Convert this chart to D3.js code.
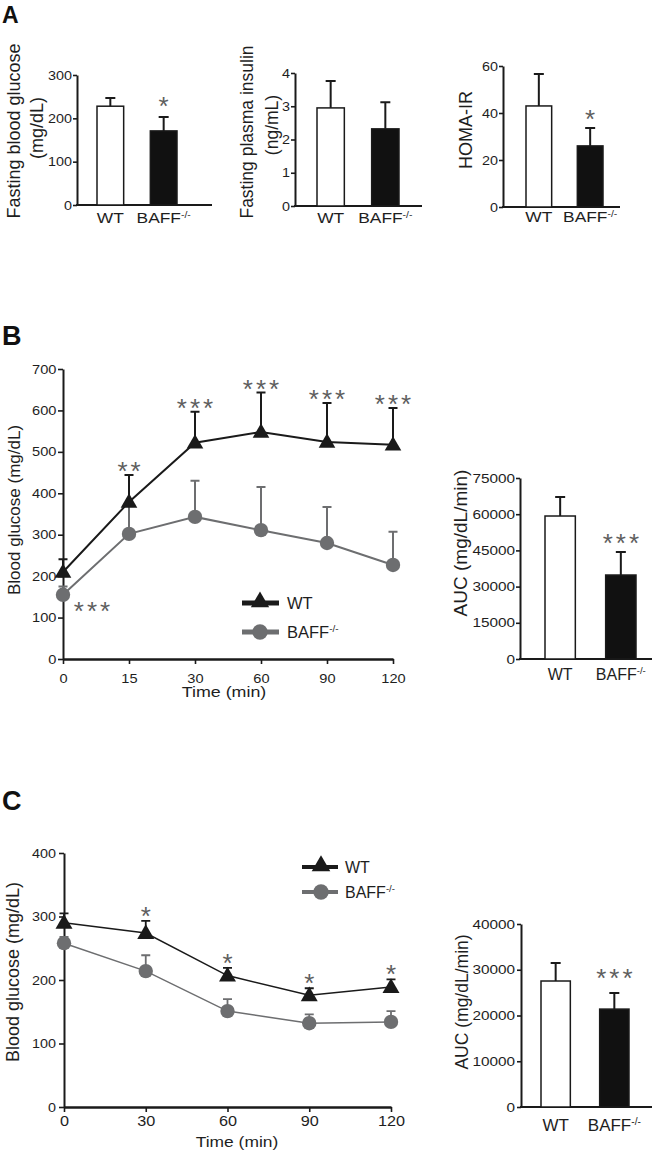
<!DOCTYPE html>
<html><head><meta charset="utf-8">
<script src="https://cdn.jsdelivr.net/npm/d3@7"></script>
<style>
body{margin:0;background:#fff}
svg{display:block}
text{font-family:"Liberation Sans",Arial,Helvetica,sans-serif}
</style>
</head><body><script>
// ---------------- DATA ----------------
const groups = ["WT", "BAFF-/-"];
const fastingGlucose = [228, 171];
const fastingGlucoseErr = [19, 32];
const fastingGlucoseStars = ["", "*"];
const fastingGlucoseTicks = [0, 100, 200, 300];
const fastingInsulin = [2.95, 2.32];
const fastingInsulinErr = [0.81, 0.80];
const fastingInsulinStars = ["", ""];
const fastingInsulinTicks = [0, 1, 2, 3, 4];
const homaIR = [43.0, 26.0];
const homaIRErr = [13.6, 7.6];
const homaIRStars = ["", "*"];
const homaIRTicks = [0, 20, 40, 60];

const gttTimes = [0, 15, 30, 60, 90, 120];
const gttWT = [210, 379, 522, 548, 524, 517];
const gttWTErr = [31, 65, 75, 95, 94, 89];
const gttBAFF = [155, 302, 343, 311, 280, 227];
const gttBAFFErr = [20, 70, 87, 104, 87, 80];
const gttStarsWT = ["", "**", "***", "***", "***", "***"];
const gttStarsBAFF = ["***", "", "", "", "", ""];
const gttYTicks = [0, 100, 200, 300, 400, 500, 600, 700];
const gttAUC = [59250, 34800];
const gttAUCErr = [7850, 9500];
const gttAUCStars = ["", "***"];
const gttAUCTicks = [0, 15000, 30000, 45000, 60000, 75000];

const ittTimes = [0, 30, 60, 90, 120];
const ittWT = [290, 274, 207, 176, 189];
const ittWTErr = [15, 19, 12, 11, 12];
const ittBAFF = [258, 214, 151, 132, 134];
const ittBAFFErr = [10, 25, 19, 14, 17];
const ittStarsWT = ["", "*", "*", "*", "*"];
const ittStarsBAFF = ["", "", "", "", ""];
const ittYTicks = [0, 100, 200, 300, 400];
const ittAUC = [27540, 21400];
const ittAUCErr = [3960, 3500];
const ittAUCStars = ["", "***"];
const ittAUCTicks = [0, 10000, 20000, 30000, 40000];

// ---------------- STYLE ----------------
const INK = "#1a1a1a", TXT = "#1e1e1e", GREY = "#6d6e70", STAR = "#5e5e5e";

const svg = d3.select("body").append("svg").attr("width", 654).attr("height", 1150);

function addLabel(t, s, size) {
  if (s.endsWith("-/-")) {
    t.append("tspan").text(s.slice(0, -3));
    t.append("tspan").attr("font-size", size * 0.6).attr("dy", -size * 0.36).text("-/-");
  } else t.text(s);
}
function txt(parent, x, y, s, o = {}) {
  const size = o.size || 14, sx = o.sx || 1;
  let tr = `translate(${x},${y})`;
  if (o.rotate) tr += ` rotate(${o.rotate})`;
  if (sx !== 1) tr += ` scale(${sx},1)`;
  const t = parent.append("text").attr("transform", tr)
    .attr("text-anchor", o.anchor || "start")
    .attr("font-size", size)
    .attr("font-weight", o.weight || "normal")
    .attr("fill", o.fill || TXT);
  if (o.ls) t.attr("letter-spacing", o.ls);
  addLabel(t, s, size);
  return t;
}
function stars(parent, cx, cy, s, fs) {
  if (!s) return;
  const ls = 3;
  txt(parent, cx + ls / 2, cy + 0.58 * fs, s, {size: fs, anchor: "middle", fill: STAR, ls});
}
function styleAxis(sel, fs, sx, domW = 2) {
  sel.attr("font-family", null).attr("font-size", null);
  sel.select(".domain").attr("stroke", INK).attr("stroke-width", domW);
  sel.selectAll(".tick line").attr("stroke", INK).attr("stroke-width", 1.6);
  sel.selectAll(".tick text").attr("font-size", fs).attr("fill", TXT).each(function () {
    const t = d3.select(this);
    const x = +t.attr("x") || 0, y = +t.attr("y") || 0;
    t.attr("x", 0).attr("y", 0).attr("transform", `translate(${x},${y}) scale(${sx},1)`);
  });
}

// ---------------- BAR CHART ----------------
function barChart(o) {
  const g = svg.append("g");
  const y = d3.scaleLinear().domain([0, o.yMax]).range([o.yBase, o.yTop]);
  const x = d3.scaleBand().domain(groups).range([o.barL, o.barR]).paddingInner(0.5);
  const ya = g.append("g").attr("transform", `translate(${o.axisX},0)`)
    .call(d3.axisLeft(y).tickValues(o.ticks).tickSize(4).tickSizeOuter(0).tickPadding(o.tickPad).tickFormat(d3.format("d")));
  styleAxis(ya, o.tickFs, o.tickSx);
  g.append("line").attr("x1", o.axisX - 1).attr("x2", o.axisEnd).attr("y1", o.yBase).attr("y2", o.yBase)
    .attr("stroke", INK).attr("stroke-width", 2.2);
  const d = groups.map((k, i) => ({k, i, m: o.means[i], e: o.errs[i], s: o.stars[i]}));
  g.selectAll(".eb").data(d).join("path")
    .attr("d", p => {
      const cx = x(p.k) + x.bandwidth() / 2, y0 = y(p.m), y1 = y(p.m + p.e);
      return `M${cx},${y0}V${y1}M${cx - 5},${y1}H${cx + 5}`;
    })
    .attr("stroke", INK).attr("stroke-width", 2).attr("fill", "none");
  g.selectAll(".bar").data(d).join("rect")
    .attr("x", p => x(p.k)).attr("width", x.bandwidth())
    .attr("y", p => y(p.m)).attr("height", p => o.yBase - y(p.m))
    .attr("fill", p => p.i === 0 ? "#fff" : "#111").attr("stroke", INK).attr("stroke-width", 1.5);
  d.forEach(p => stars(g, x(p.k) + x.bandwidth() / 2, y(p.m + p.e) - o.starGap, p.s, o.starFs || 26));
  d.forEach(p => txt(g, x(p.k) + x.bandwidth() / 2, o.catY, p.k, {size: o.catFs, sx: o.catSx, anchor: "middle"}));
  o.title.forEach((s, i) => txt(g, o.titleX[i], o.titleY[i], s, {size: o.titleFs, rotate: -90, anchor: "middle"}));
}

// ---------------- LINE CHART ----------------
function lineChart(o) {
  const g = svg.append("g");
  const x = d3.scalePoint().domain(o.times).range([o.axisX, o.xEnd]);
  const y = d3.scaleLinear().domain([0, o.yMax]).range([o.yBase, o.yTop]);
  const ya = g.append("g").attr("transform", `translate(${o.axisX},0)`)
    .call(d3.axisLeft(y).tickValues(o.yTicks).tickSize(5).tickSizeOuter(0).tickPadding(o.yPad));
  styleAxis(ya, o.tickFs, o.tickSx);
  const xa = g.append("g").attr("transform", `translate(0,${o.yBase})`)
    .call(d3.axisBottom(x).tickSize(5).tickSizeOuter(0).tickPadding(o.xPad));
  styleAxis(xa, o.xTickFs, o.xTickSx, 2.4);

  const series = [
    {v: o.baff, e: o.baffErr, c: GREY, m: "circle", st: o.starsBAFF},
    {v: o.wt, e: o.wtErr, c: INK, m: "triangle", st: o.starsWT}
  ];
  const tri = d3.symbol(d3.symbolTriangle).size(o.triSize);
  series.forEach(s => {
    const pts = o.times.map((t, i) => ({t, v: s.v[i], e: s.e[i], st: s.st[i]}));
    g.append("g").selectAll("path").data(pts).join("path")
      .attr("d", p => {
        const cx = x(p.t), y0 = y(p.v), y1 = y(p.v + p.e);
        return `M${cx},${y0}V${y1}M${cx - o.capW / 2},${y1}H${cx + o.capW / 2}`;
      })
      .attr("stroke", s.c).attr("stroke-width", o.errW).attr("fill", "none");
    g.append("path").datum(pts)
      .attr("d", d3.line().x(p => x(p.t)).y(p => y(p.v)))
      .attr("stroke", s.c).attr("stroke-width", o.lineW).attr("fill", "none");
    if (s.m === "circle") {
      g.append("g").selectAll("circle").data(pts).join("circle")
        .attr("cx", p => x(p.t)).attr("cy", p => y(p.v)).attr("r", o.circR).attr("fill", s.c);
      pts.forEach(p => stars(g, x(p.t) + o.baffStarDx, y(p.v) + o.baffStarDy, p.st, o.starFs));
    } else {
      g.append("g").selectAll("path").data(pts).join("path")
        .attr("d", tri).attr("transform", p => `translate(${x(p.t)},${y(p.v) + 1})`).attr("fill", s.c);
      pts.forEach(p => stars(g, x(p.t), y(p.v + p.e) - o.starGap, p.st, o.starFs));
    }
  });
  txt(g, o.titleX, o.titleY, o.title, {size: o.titleFs, rotate: -90, anchor: "middle"});
  txt(g, o.timeX, o.timeY, "Time (min)", {size: o.timeFs, sx: o.timeSx, anchor: "middle"});
  const L = o.legend;
  const items = [{k: groups[0], c: INK, m: "triangle"}, {k: groups[1], c: GREY, m: "circle"}];
  items.forEach((it, i) => {
    const ly = L.y[i];
    g.append("line").attr("x1", L.x1).attr("x2", L.x2).attr("y1", ly).attr("y2", ly)
      .attr("stroke", it.c).attr("stroke-width", L.lw);
    if (it.m === "triangle") g.append("path").attr("d", d3.symbol(d3.symbolTriangle).size(o.triSize + 25)())
      .attr("transform", `translate(${L.mx},${ly - 1})`).attr("fill", it.c);
    else g.append("circle").attr("cx", L.mx).attr("cy", ly).attr("r", o.circR + 0.5).attr("fill", it.c);
    txt(g, L.tx, ly + 6, it.k, {size: L.fs});
  });
}

// ---------------- PANEL A ----------------
txt(svg, 2, 23, "A", {size: 23, weight: "bold", fill: "#111"});
barChart({axisX: 77, axisEnd: 212, barL: 97, barR: 177, yBase: 205, yTop: 75, yMax: 300,
  ticks: fastingGlucoseTicks, means: fastingGlucose, errs: fastingGlucoseErr, stars: fastingGlucoseStars,
  starGap: 17, tickFs: 12.5, tickSx: 1.15, tickPad: 1, catFs: 14.5, catSx: 1.2, catY: 223,
  title: ["Fasting blood glucose", "(mg/dL)"], titleX: [20, 43], titleY: [131, 128], titleFs: 18});
barChart({axisX: 295, axisEnd: 422, barL: 317, barR: 399, yBase: 206, yTop: 73, yMax: 4,
  ticks: fastingInsulinTicks, means: fastingInsulin, errs: fastingInsulinErr, stars: fastingInsulinStars,
  starGap: 15, tickFs: 12.5, tickSx: 1.15, tickPad: 1, catFs: 14.5, catSx: 1.2, catY: 223,
  title: ["Fasting plasma insulin", "(ng/mL)"], titleX: [253, 278], titleY: [132, 125], titleFs: 17.5});
barChart({axisX: 503, axisEnd: 620, barL: 526, barR: 603, yBase: 207, yTop: 66, yMax: 60,
  ticks: homaIRTicks, means: homaIR, errs: homaIRErr, stars: homaIRStars,
  starGap: 15, tickFs: 12.5, tickSx: 1.15, tickPad: 1, catFs: 14.5, catSx: 1.2, catY: 222,
  title: ["HOMA-IR"], titleX: [472], titleY: [130], titleFs: 18});

// ---------------- PANEL B ----------------
txt(svg, 2, 345, "B", {size: 27, weight: "bold", fill: "#111"});
lineChart({axisX: 63, xEnd: 393, yBase: 659, yTop: 369, yMax: 700, yTicks: gttYTicks, times: gttTimes,
  wt: gttWT, wtErr: gttWTErr, baff: gttBAFF, baffErr: gttBAFFErr, starsWT: gttStarsWT, starsBAFF: gttStarsBAFF,
  baffStarDx: 29, baffStarDy: 10,
  tickFs: 12.5, tickSx: 1.17, xTickFs: 12.5, xTickSx: 1.17, yPad: 1.5, xPad: 10, lineW: 2, triSize: 120, circR: 7.2, capW: 9, errW: 2,
  starGap: 10, starFs: 26, title: "Blood glucose (mg/dL)", titleX: 19.5, titleY: 510, titleFs: 17,
  timeX: 224, timeY: 697, timeFs: 15, timeSx: 1.19,
  legend: {x1: 242, x2: 279, mx: 260, tx: 287, y: [603, 632], lw: 5, fs: 16.5}});
barChart({axisX: 520, axisEnd: 652, barL: 545, barR: 636, yBase: 659, yTop: 478, yMax: 75000,
  ticks: gttAUCTicks, means: gttAUC, errs: gttAUCErr, stars: gttAUCStars,
  starGap: 15, tickFs: 13, tickSx: 1.18, tickPad: 1, catFs: 16, catSx: 1, catY: 680,
  title: ["AUC (mg/dL/min)"], titleX: [467], titleY: [543], titleFs: 19});

// ---------------- PANEL C ----------------
txt(svg, 2, 810, "C", {size: 27, weight: "bold", fill: "#111"});
lineChart({axisX: 64, xEnd: 391, yBase: 1107, yTop: 853, yMax: 400, yTicks: ittYTicks, times: ittTimes,
  wt: ittWT, wtErr: ittWTErr, baff: ittBAFF, baffErr: ittBAFFErr, starsWT: ittStarsWT, starsBAFF: ittStarsBAFF,
  baffStarDx: 0, baffStarDy: 0,
  tickFs: 12.5, tickSx: 1.15, xTickFs: 14, xTickSx: 1.16, yPad: 3, xPad: 4, lineW: 1.5, triSize: 125, circR: 7.2, capW: 9, errW: 1.8,
  starGap: 11, starFs: 26, title: "Blood glucose (mg/dL)", titleX: 19, titleY: 972, titleFs: 18,
  timeX: 237, timeY: 1147, timeFs: 15, timeSx: 1.16,
  legend: {x1: 302, x2: 338, mx: 321, tx: 345, y: [867, 892], lw: 4, fs: 16}});
barChart({axisX: 521, axisEnd: 652, barL: 541, barR: 629, yBase: 1107, yTop: 924, yMax: 40000,
  ticks: ittAUCTicks, means: ittAUC, errs: ittAUCErr, stars: ittAUCStars,
  starGap: 21, tickFs: 13, tickSx: 1.18, tickPad: 2, catFs: 17, catSx: 1, catY: 1131,
  title: ["AUC (mg/dL/min)"], titleX: [468], titleY: [1002], titleFs: 17.5});
</script></body></html>
